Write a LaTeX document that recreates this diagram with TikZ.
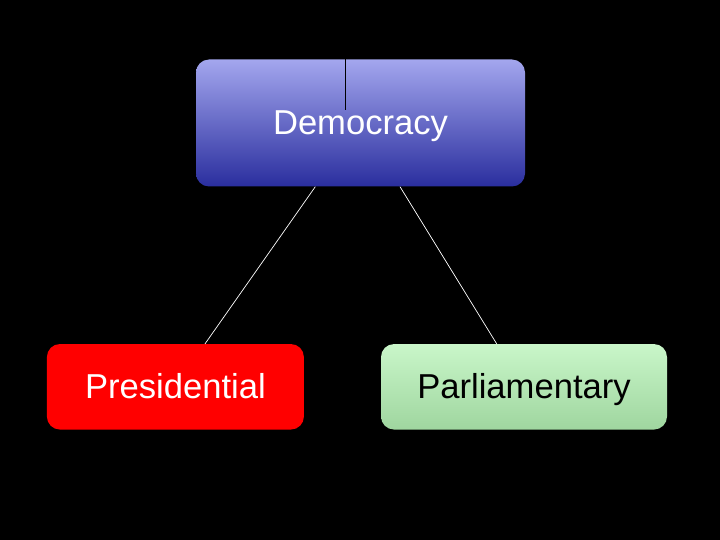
\documentclass[tikz,border=0pt]{standalone}
\usepackage{fontspec}
\setmainfont{Liberation Sans}
\usetikzlibrary{calc}
\definecolor{demtop}{HTML}{A3A6EE}
\definecolor{dembot}{HTML}{2A2E9E}
\definecolor{partop}{HTML}{C9F6C9}
\definecolor{parbot}{HTML}{9FD69F}
\begin{document}
\begin{tikzpicture}[x=1pt,y=-1pt,
  box/.style={rounded corners=13pt, inner sep=0pt},
  lbl/.style={anchor=base, inner sep=0pt, font=\fontsize{34.6}{40}\selectfont},
  conn/.style={white, line width=0.7pt}]
\fill[black] (0,0) rectangle (720,540);
\useasboundingbox (0,0) rectangle (720,540);
\node[box, top color=demtop, bottom color=dembot,
  minimum width=329pt, minimum height=127pt] (dem) at (360.5,123) {};
\node[lbl, text=white] (demtxt) at (360.5,134.5) {Democracy};
\coordinate (vtop) at (345.3,59.5);
\coordinate (vbot) at (345.3,110.5);
\draw[black, line width=1pt] (vtop) -- (vbot);
\node[box, fill={rgb,255:red,255;green,0;blue,0},
  minimum width=257pt, minimum height=85.5pt] (pres) at (175.4,386.8) {};
\node[lbl, text=white] (prestxt) at (175.4,398.5) {Presidential};
\node[box, top color=partop, bottom color=parbot,
  minimum width=286pt, minimum height=85.5pt] (parl) at (524,386.8) {};
\node[lbl, text=black] (parltxt) at (524,398.5) {Parliamentary};
\draw[conn] ($(dem.south)+(-45.2,0)$) -- ($(pres.north)+(29.6,0)$);
\draw[conn] ($(dem.south)+(39.5,0)$) -- ($(parl.north)+(-27.3,0)$);
\end{tikzpicture}
\end{document}
